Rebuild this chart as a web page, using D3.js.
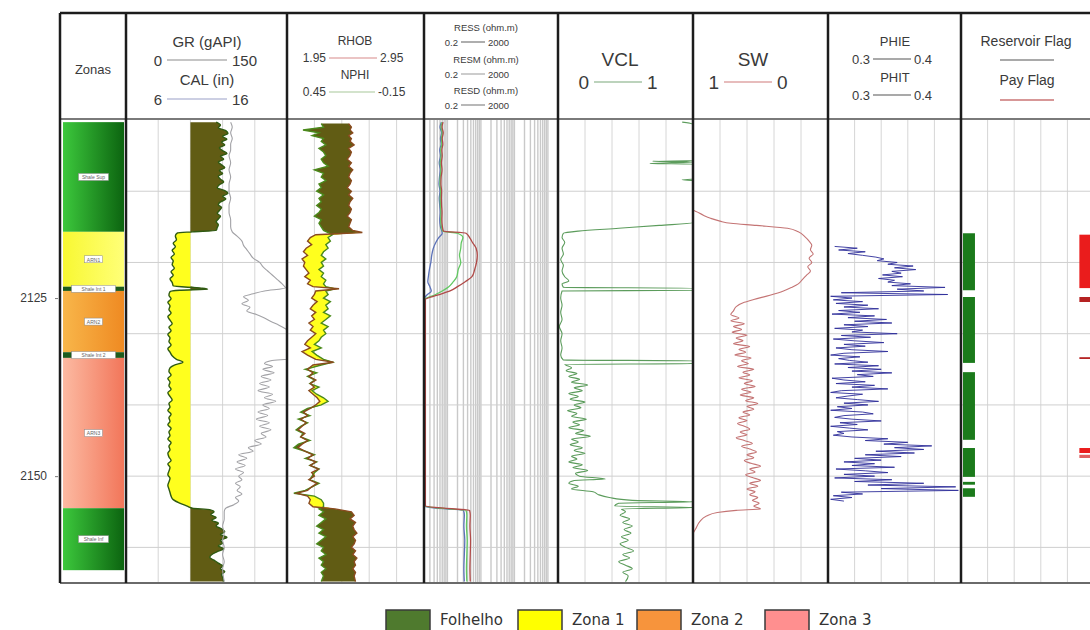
<!DOCTYPE html>
<html>
<head>
<meta charset="utf-8">
<script src="https://cdn.jsdelivr.net/npm/d3@7"></script>
<style>
  body { margin: 0; background: #fff; }
  svg { display: block; font-family: "Liberation Sans", Arial, sans-serif; }
</style>
</head>
<body>
<svg id="chart" width="1090" height="630"></svg>
<script>
// ---- data ----
const depthRange = [2100, 2165]
const depthLabels = [2125, 2150]

const zoneNames = ["Shale Sup", "ARN1", "Shale Int 1", "ARN2", "Shale Int 2", "ARN3", "Shale Inf"]
const zoneTops = [2100.3, 2115.7, 2123.4, 2124.0, 2132.6, 2133.4, 2154.5]
const zoneBases = [2115.7, 2123.4, 2124.0, 2132.6, 2133.4, 2154.5, 2163.2]
const zoneKinds = ["shale", "sand1", "thin", "sand2", "thin", "sand3", "shale"]

const legendLabels = ["Folhelho", "Zona 1", "Zona 2", "Zona 3"]

const grCutoff = 60
// [depth, GR gAPI]
const grCurve = [[2100.3,84],[2100.7,88],[2101.1,86],[2101.5,93],[2101.9,95],[2102.3,90],[2102.7,94],[2103.1,89],[2103.5,92],[2103.9,87],[2104.3,90],[2104.7,94],[2105.1,88],[2105.5,91],[2105.9,86],[2106.3,89],[2106.7,92],[2107.1,87],[2107.5,90],[2107.9,86],[2108.3,88],[2108.7,91],[2109.1,87],[2109.5,85],[2109.9,92],[2110.3,95],[2110.7,90],[2111.1,93],[2111.5,88],[2111.9,86],[2112.3,89],[2112.7,87],[2113.1,85],[2113.5,88],[2113.9,86],[2114.3,84],[2114.7,86],[2115.1,85],[2115.5,84],[2115.7,62],[2115.85,48],[2116.3,46],[2116.8,47],[2117.3,44],[2117.8,46],[2118.3,43],[2118.8,45],[2119.3,42],[2119.8,44],[2120.3,43],[2120.8,45],[2121.3,42],[2121.8,44],[2122.3,41],[2122.8,43],[2123.3,44],[2123.6,70],[2123.75,76],[2123.9,50],[2124.1,41],[2124.6,40],[2125.1,42],[2125.6,39],[2126.1,41],[2126.6,40],[2127.1,42],[2127.6,39],[2128.1,41],[2128.6,43],[2129.1,40],[2129.6,42],[2130.1,39],[2130.6,41],[2131.1,40],[2131.6,42],[2132.1,39],[2132.6,41],[2133.1,43],[2133.6,47],[2134.0,53],[2134.4,45],[2134.8,41],[2135.3,40],[2135.8,42],[2136.3,39],[2136.8,41],[2137.3,40],[2137.8,42],[2138.3,39],[2138.8,41],[2139.3,43],[2139.8,40],[2140.3,41],[2140.8,39],[2141.3,42],[2141.8,40],[2142.3,41],[2142.8,39],[2143.3,42],[2143.8,40],[2144.3,41],[2144.8,39],[2145.3,42],[2145.8,40],[2146.3,41],[2146.8,39],[2147.3,40],[2147.8,42],[2148.3,39],[2148.8,41],[2149.3,40],[2149.8,39],[2150.3,41],[2150.8,40],[2151.3,39],[2151.8,40],[2152.3,41],[2152.8,42],[2153.3,44],[2153.8,50],[2154.2,57],[2154.5,62],[2154.7,78],[2155.0,82],[2155.4,79],[2155.8,84],[2156.2,80],[2156.6,86],[2157.0,84],[2157.4,89],[2157.8,92],[2158.2,88],[2158.6,94],[2159.0,88],[2159.4,90],[2159.8,86],[2160.2,91],[2160.6,85],[2161.0,80],[2161.4,78],[2161.8,82],[2162.2,86],[2162.6,90],[2163.0,88],[2163.4,92],[2163.8,89],[2164.2,90],[2164.8,91]]

// [depth, CAL in]
const calCurve = [[2100.3,12.5],[2101,12.6],[2101.8,12.5],[2102.6,12.6],[2103.4,12.5],[2104.2,12.5],[2105,12.4],[2106,12.5],[2107,12.4],[2108,12.5],[2109,12.4],[2110,12.4],[2111,12.5],[2112,12.4],[2113,12.4],[2114,12.5],[2115,12.5],[2115.7,12.6],[2116.3,12.9],[2117,13.2],[2117.6,13.3],[2118.2,13.5],[2118.8,13.7],[2119.4,13.9],[2120,14.3],[2120.6,14.5],[2121.2,14.8],[2121.8,15.1],[2122.4,15.4],[2123,15.7],[2123.6,15.9],[2124,14.6],[2124.4,13.9],[2124.8,13.3],[2125.3,13.6],[2125.8,13.2],[2126.3,13.7],[2126.8,13.5],[2127.3,14.1],[2127.8,14.6],[2128.3,15.0],[2128.8,15.5],[2129.3,15.9],[2129.8,16.3],[2133.5,16.3],[2133.8,15.0],[2134.2,14.6],[2134.6,15.1],[2135,14.5],[2135.5,15.2],[2136,14.4],[2136.5,15.0],[2137,14.3],[2137.5,14.9],[2138,14.2],[2138.5,15.1],[2139,14.6],[2139.5,15.3],[2140,14.5],[2140.5,14.9],[2141,14.2],[2141.5,14.8],[2142,14.1],[2142.5,14.9],[2143,14.3],[2143.5,15.0],[2144,14.4],[2144.5,14.7],[2145,14.0],[2145.5,14.4],[2146,13.6],[2146.5,13.9],[2147,13.0],[2147.5,13.5],[2148,12.9],[2148.5,13.4],[2149,12.8],[2149.5,13.3],[2150,13.0],[2150.5,13.2],[2151,12.8],[2151.5,13.1],[2152,12.9],[2152.5,13.2],[2153,12.8],[2153.5,13.0],[2154,12.7],[2154.5,12.2],[2155,12.1],[2156,12.1],[2157,12.0],[2158,12.1],[2159,12.0],[2160,12.1],[2161,12.0],[2162,12.1],[2163,12.0],[2164.8,12.1]]

// [depth, RHOB g/cc, NPHI v/v]
const densNeutron = [[2100.5,2.40,0.30],[2101,2.42,0.29],[2101.4,2.41,0.38],[2101.8,2.43,0.31],[2102.2,2.40,0.34],[2102.6,2.42,0.29],[2103,2.41,0.30],[2103.5,2.44,0.28],[2104,2.40,0.31],[2104.5,2.42,0.29],[2105,2.41,0.28],[2105.5,2.39,0.30],[2106,2.42,0.29],[2106.5,2.40,0.27],[2107,2.43,0.33],[2107.5,2.41,0.29],[2108,2.40,0.30],[2108.5,2.42,0.28],[2109,2.41,0.31],[2109.5,2.39,0.30],[2110,2.42,0.32],[2110.5,2.40,0.29],[2111,2.43,0.31],[2111.5,2.41,0.30],[2112,2.40,0.32],[2112.5,2.42,0.30],[2113,2.41,0.31],[2113.5,2.39,0.33],[2114,2.42,0.30],[2114.5,2.41,0.31],[2115,2.40,0.30],[2115.5,2.43,0.29],[2115.8,2.50,0.27],
  [2116.1,2.16,0.25],[2116.5,2.12,0.27],[2117,2.10,0.26],[2117.5,2.13,0.28],[2118,2.09,0.27],[2118.5,2.07,0.29],[2119,2.10,0.30],[2119.5,2.06,0.28],[2120,2.08,0.30],[2120.5,2.07,0.29],[2121,2.09,0.31],[2121.5,2.11,0.29],[2122,2.08,0.30],[2122.5,2.12,0.28],[2123,2.10,0.29],[2123.4,2.14,0.28],[2123.7,2.33,0.24],[2124.0,2.16,0.28],
  [2124.5,2.15,0.27],[2125,2.13,0.29],[2125.5,2.17,0.26],[2126,2.14,0.28],[2126.5,2.12,0.27],[2127,2.16,0.29],[2127.5,2.13,0.26],[2128,2.15,0.28],[2128.5,2.11,0.30],[2129,2.14,0.27],[2129.5,2.12,0.29],[2130,2.16,0.28],[2130.5,2.13,0.30],[2131,2.10,0.31],[2131.5,2.08,0.33],[2132,2.12,0.30],[2132.5,2.06,0.34],[2133,2.10,0.32],[2133.6,2.16,0.29],[2134.0,2.29,0.25],[2134.4,2.14,0.30],
  [2135,2.10,0.37],[2135.5,2.14,0.32],[2136,2.11,0.36],[2136.5,2.16,0.33],[2137,2.12,0.35],[2137.5,2.15,0.31],[2138,2.11,0.34],[2138.5,2.14,0.32],[2139,2.17,0.29],[2139.5,2.19,0.27],[2140,2.16,0.30],[2140.5,2.12,0.36],[2141,2.07,0.39],[2141.5,2.10,0.35],[2142,2.05,0.40],[2142.5,2.09,0.36],[2143,2.06,0.39],[2143.5,2.03,0.41],[2144,2.08,0.38],[2144.5,2.05,0.39],[2145,2.10,0.35],[2145.5,2.06,0.40],[2146,2.03,0.42],[2146.5,2.08,0.37],[2147,2.14,0.33],[2147.5,2.10,0.37],[2148,2.16,0.32],[2148.5,2.12,0.35],[2149,2.18,0.31],[2149.5,2.13,0.33],[2150,2.15,0.34],[2150.5,2.11,0.35],[2151,2.17,0.31],[2151.5,2.13,0.34],[2152,2.10,0.37],[2152.4,2.02,0.42],[2152.8,2.10,0.33],[2153.3,2.12,0.30],[2153.8,2.11,0.29],[2154.3,2.14,0.29],[2154.6,2.30,0.31],
  [2155,2.42,0.29],[2155.5,2.44,0.31],[2156,2.41,0.28],[2156.5,2.45,0.30],[2157,2.43,0.32],[2157.5,2.44,0.29],[2158,2.46,0.31],[2158.5,2.43,0.28],[2159,2.45,0.30],[2159.5,2.44,0.32],[2160,2.42,0.29],[2160.5,2.45,0.30],[2161,2.43,0.28],[2161.5,2.46,0.31],[2162,2.44,0.29],[2162.5,2.45,0.30],[2163,2.43,0.28],[2163.5,2.45,0.30],[2164,2.44,0.29],[2164.8,2.45,0.30]]

// [depth, RESS, RESM, RESD] ohm.m
const resCurves = [[2100.3,0.66,0.70,0.74],[2101,0.60,0.64,0.69],[2101.8,0.67,0.70,0.75],[2102.6,0.62,0.66,0.70],[2103.4,0.65,0.68,0.73],[2104.2,0.59,0.63,0.68],[2105,0.62,0.65,0.70],[2106,0.57,0.61,0.66],[2107,0.61,0.64,0.69],[2108,0.58,0.61,0.65],[2109,0.56,0.60,0.64],[2110,0.60,0.63,0.67],[2111,0.57,0.61,0.66],[2112,0.59,0.62,0.67],[2113,0.61,0.64,0.69],[2114,0.59,0.63,0.68],[2115,0.62,0.66,0.71],[2115.6,0.68,0.72,0.76],[2115.9,0.70,2.0,3.6],[2116.5,0.55,2.9,4.6],[2117.2,0.45,2.6,5.6],[2118,0.38,2.5,7.2],[2119,0.34,2.3,7.8],[2120,0.32,2.5,7.4],[2121,0.29,2.1,6.5],[2122,0.27,1.9,5.4],[2122.7,0.26,1.5,3.4],[2123.4,0.30,1.1,2.0],[2124.0,0.33,0.7,1.2],[2124.6,0.24,0.4,0.5],[2125.2,0.2,0.21,0.22],[2154.2,0.2,0.21,0.22],[2154.5,0.45,0.6,0.8],[2154.8,3.0,3.6,4.6],[2155.5,3.2,3.8,4.8],[2157,3.1,3.7,4.7],[2159,3.3,3.9,4.9],[2161,3.2,3.8,4.8],[2163,3.1,3.7,4.7],[2164.8,3.2,3.8,4.8]]

// [depth, VCL v/v]
const vclCurve = [[2100.3,0.92],[2100.6,1],[2105.7,1],[2105.8,0.70],[2105.9,1],[2106.1,0.68],[2106.2,1],[2108.3,1],[2108.4,0.92],[2108.5,1],[2114.4,1],[2114.8,0.75],[2115.2,0.45],[2115.6,0.15],[2115.9,0.04],[2116.5,0.03],[2117.2,0.05],[2118,0.03],[2118.8,0.04],[2119.6,0.02],[2120.4,0.04],[2121.2,0.03],[2122,0.05],[2122.6,0.08],[2123,0.03],[2123.5,0.04],[2123.6,1],[2123.9,1],[2124.0,0.03],[2125,0.02],[2126,0.03],[2127,0.02],[2128,0.03],[2129,0.01],[2130,0.03],[2131,0.02],[2132,0.03],[2133,0.02],[2133.7,0.04],[2133.8,1],[2134.2,1],[2134.3,0.05],[2134.8,0.10],[2135.2,0.06],[2135.6,0.14],[2136,0.08],[2136.4,0.16],[2136.8,0.10],[2137.2,0.22],[2137.6,0.12],[2138,0.18],[2138.4,0.08],[2138.8,0.15],[2139.2,0.09],[2139.6,0.20],[2140,0.12],[2140.4,0.17],[2140.8,0.07],[2141.2,0.14],[2141.6,0.10],[2142,0.21],[2142.4,0.11],[2142.8,0.16],[2143.2,0.08],[2143.6,0.19],[2144,0.13],[2144.4,0.24],[2144.8,0.10],[2145.2,0.15],[2145.6,0.09],[2146,0.18],[2146.4,0.12],[2146.8,0.20],[2147.2,0.10],[2147.6,0.14],[2148,0.08],[2148.4,0.18],[2148.8,0.11],[2149.2,0.22],[2149.6,0.13],[2150,0.16],[2150.4,0.35],[2150.6,0.12],[2151,0.08],[2151.4,0.15],[2151.8,0.10],[2152.2,0.26],[2152.6,0.30],[2153.0,0.38],[2153.4,0.55],[2153.6,1],[2153.8,0.45],[2154.2,0.42],[2154.4,1],[2154.6,0.47],[2155,0.50],[2155.5,0.46],[2156,0.53],[2156.5,0.48],[2157,0.55],[2157.5,0.49],[2158,0.54],[2158.5,0.47],[2159,0.52],[2159.5,0.46],[2160,0.50],[2160.5,0.56],[2161,0.48],[2161.5,0.53],[2162,0.45],[2162.5,0.50],[2163,0.55],[2163.5,0.48],[2164,0.52],[2164.8,0.50]]

// [depth, SW v/v]
const swCurve = [[2100.3,1],[2112.6,1],[2112.9,0.97],[2113.4,0.92],[2113.8,0.87],[2114.2,0.80],[2114.5,0.72],[2114.8,0.53],[2115.2,0.30],[2115.7,0.22],[2116.4,0.17],[2117,0.14],[2117.6,0.12],[2118.2,0.13],[2118.8,0.11],[2119.4,0.14],[2120,0.12],[2120.6,0.15],[2121.2,0.13],[2121.8,0.16],[2122.4,0.19],[2123,0.22],[2123.5,0.27],[2124,0.33],[2124.6,0.43],[2125.2,0.55],[2125.6,0.62],[2126.2,0.68],[2126.8,0.70],[2127.3,0.72],[2127.8,0.66],[2128.2,0.72],[2128.6,0.62],[2129,0.70],[2129.4,0.64],[2129.8,0.71],[2130.2,0.60],[2130.6,0.68],[2131,0.63],[2131.4,0.70],[2131.8,0.58],[2132.2,0.66],[2132.6,0.61],[2133,0.69],[2133.4,0.57],[2133.8,0.64],[2134.2,0.59],[2134.6,0.67],[2135,0.55],[2135.4,0.63],[2135.8,0.58],[2136.2,0.66],[2136.6,0.56],[2137,0.62],[2137.4,0.54],[2137.8,0.64],[2138.2,0.57],[2138.6,0.65],[2139,0.55],[2139.4,0.61],[2139.8,0.52],[2140.2,0.60],[2140.6,0.55],[2141,0.63],[2141.4,0.58],[2141.8,0.66],[2142.2,0.60],[2142.6,0.67],[2143,0.62],[2143.4,0.58],[2143.8,0.65],[2144.2,0.60],[2144.6,0.68],[2145,0.62],[2145.4,0.56],[2145.8,0.64],[2146.2,0.58],[2146.6,0.53],[2147,0.60],[2147.4,0.55],[2147.8,0.62],[2148.2,0.57],[2148.6,0.50],[2149,0.58],[2149.4,0.54],[2149.8,0.61],[2150.2,0.56],[2150.6,0.50],[2151,0.58],[2151.4,0.52],[2151.8,0.60],[2152.2,0.54],[2152.6,0.58],[2153,0.52],[2153.4,0.56],[2153.8,0.51],[2154.2,0.55],[2154.6,0.50],[2154.8,0.68],[2155.1,0.82],[2155.6,0.90],[2156.4,0.95],[2157.4,0.98],[2158.2,1],[2164.8,1]]

// PHIE sampled every 0.25 m from 2117.75 m
const phieStart = 2117.75
const phieStep = 0.25
const phieValues = [0.305,0.322,0.308,0.328,0.315,0.326,0.336,0.342,0.337,0.352,0.345,0.364,0.350,0.366,0.348,0.355,0.341,0.356,0.338,0.350,0.345,0.362,0.348,0.388,0.352,0.372,0.310,0.390,0.302,0.318,0.304,0.326,0.306,0.330,0.312,0.338,0.308,0.324,0.303,0.335,0.315,0.344,0.320,0.348,0.312,0.330,0.305,0.326,0.318,0.352,0.310,0.332,0.304,0.320,0.342,0.312,0.328,0.306,0.318,0.345,0.312,0.302,0.324,0.308,0.316,0.330,0.305,0.338,0.315,0.340,0.318,0.348,0.322,0.334,0.303,0.312,0.328,0.306,0.335,0.318,0.345,0.310,0.302,0.326,0.315,0.306,0.322,0.338,0.312,0.330,0.307,0.318,0.302,0.326,0.334,0.312,0.305,0.318,0.340,0.309,0.322,0.302,0.316,0.330,0.307,0.312,0.304,0.318,0.345,0.328,0.360,0.342,0.378,0.350,0.372,0.336,0.365,0.328,0.355,0.320,0.340,0.312,0.335,0.318,0.350,0.306,0.328,0.345,0.312,0.335,0.305,0.348,0.320,0.372,0.330,0.396,0.340,0.398,0.310,0.326,0.304,0.318,0.302,0.312]

// flag intervals [top, base]
const reservoirFlags = [[2115.9,2123.9],[2124.85,2134.1],[2135.4,2144.9],[2146.05,2150.1],[2150.8,2151.2],[2151.7,2152.9]]
const payFlags = [[2116.1,2123.6,"main"],[2124.85,2125.55,"thin"],[2133.3,2133.55,"thin"],[2146.05,2146.75,"main"],[2147.0,2147.45,"light"]]

// ---- layout ----
const svg = d3.select("#chart")
const edges = [60, 126, 287, 424, 558, 693, 828, 961, 1094]
const headTop = 13, headBottom = 119, plotTop = 120, plotBottom = 583
const ink = "#3a3a3a"
const olive = "#615c14"
const sandYellow = "#ffff1e"
const zoneColors = {
  shale: ["#3cc83c", "#0c6410"],
  sand1: ["#f8f832", "#ffff78"],
  sand2: ["#f8b64a", "#ef8a22"],
  sand3: ["#fcbaa2", "#f2765a"],
  thin: ["#1d5c1d", "#1d5c1d"]
}
const legendColors = ["#4f7a2e", "#ffff00", "#f7943c", "#ff8f8f"]

const y = d3.scaleLinear().domain(depthRange).range([plotTop, plotBottom])
const x = {
  gr: d3.scaleLinear([0, 150], [edges[1], edges[2]]),
  cal: d3.scaleLinear([6, 16], [edges[1], edges[2]]),
  rhob: d3.scaleLinear([1.95, 2.95], [edges[2], edges[3]]),
  nphi: d3.scaleLinear([0.45, -0.15], [edges[2], edges[3]]),
  res: d3.scaleLog([0.2, 2000], [edges[3], edges[4]]),
  vcl: d3.scaleLinear([0, 1], [edges[4], edges[5]]),
  sw: d3.scaleLinear([1, 0], [edges[5], edges[6]]),
  phie: d3.scaleLinear([0.3, 0.4], [edges[6], edges[7]]),
  flag: d3.scaleLinear([0, 10], [edges[7], edges[8]])
}
const smooth = d3.curveMonotoneY

const defs = svg.append("defs")
for (let i = 1; i < edges.length - 1; i++) {
  defs.append("clipPath").attr("id", `clip${i}`)
    .append("rect")
    .attr("x", edges[i]).attr("y", plotTop)
    .attr("width", edges[i + 1] - edges[i]).attr("height", plotBottom - plotTop)
}
Object.entries(zoneColors).forEach(([k, c]) => {
  const g = defs.append("linearGradient").attr("id", `grad-${k}`)
  g.append("stop").attr("offset", "0%").attr("stop-color", c[0])
  g.append("stop").attr("offset", "100%").attr("stop-color", c[1])
})

// ---- grids ----
const gridG = svg.append("g")
const hLines = d3.range(2110, depthRange[1], 10)
for (let i = 1; i < edges.length - 1; i++) {
  const g = gridG.append("g").attr("clip-path", `url(#clip${i})`)
  const x0 = edges[i], x1 = edges[i + 1]
  let vx
  if (i === 3) {
    vx = []
    ;[-1, 0, 1, 2, 3].forEach((p) => d3.range(1, 10).forEach((k) => {
      const v = k * Math.pow(10, p)
      if (v > 0.2 && v < 2000) vx.push(x.res(v))
    }))
  } else {
    vx = d3.range(1, 5).map((k) => x0 + k * (x1 - x0) / 5)
  }
  g.selectAll("line.v").data(vx).join("line")
    .attr("x1", (d) => d).attr("x2", (d) => d)
    .attr("y1", plotTop).attr("y2", plotBottom)
    .attr("stroke", i === 3 ? "#c9c9c9" : "#d6d6d6").attr("stroke-width", i === 3 ? 1.4 : 1)
  g.selectAll("line.h").data(hLines).join("line")
    .attr("x1", x0).attr("x2", x1)
    .attr("y1", (d) => y(d)).attr("y2", (d) => y(d))
    .attr("stroke", "#cfcfcf").attr("stroke-width", 1)
}

// ---- zones ----
const zoneG = svg.append("g")
const zoneX0 = edges[0] + 3, zoneX1 = edges[1] - 2
zoneNames.forEach((name, i) => {
  zoneG.append("rect")
    .attr("x", zoneX0).attr("width", zoneX1 - zoneX0)
    .attr("y", y(zoneTops[i])).attr("height", y(zoneBases[i]) - y(zoneTops[i]))
    .attr("fill", `url(#grad-${zoneKinds[i]})`)
})
zoneNames.forEach((name, i) => {
  const cy = (y(zoneTops[i]) + y(zoneBases[i])) / 2
  const w = zoneKinds[i] === "thin" ? 44 : (name.length > 5 ? 30 : 18)
  const cx = (zoneX0 + zoneX1) / 2
  zoneG.append("rect")
    .attr("x", cx - w / 2).attr("y", cy - 3.5).attr("width", w).attr("height", 7)
    .attr("fill", "#fff").attr("stroke", "#8a8a8a").attr("stroke-width", 0.5)
  zoneG.append("text")
    .attr("x", cx).attr("y", cy + 0.3)
    .attr("text-anchor", "middle").attr("dominant-baseline", "central")
    .attr("font-size", 5).attr("fill", "#666").text(name)
})

// ---- GR / CAL ----
const grG = svg.append("g").attr("clip-path", "url(#clip1)")
const base = x.gr(grCutoff)
grG.append("path").datum(grCurve)
  .attr("fill", olive)
  .attr("d", d3.area().curve(smooth).y((d) => y(d[0])).x0(base).x1((d) => Math.max(base, x.gr(d[1]))))
grG.append("path").datum(grCurve)
  .attr("fill", sandYellow)
  .attr("d", d3.area().curve(smooth).y((d) => y(d[0])).x0((d) => Math.min(base, x.gr(d[1]))).x1(base))
grG.append("path").datum(grCurve)
  .attr("fill", "none").attr("stroke", "#2f5a12").attr("stroke-width", 1.4)
  .attr("d", d3.line().curve(smooth).y((d) => y(d[0])).x((d) => x.gr(d[1])))
grG.append("path").datum(calCurve)
  .attr("fill", "none").attr("stroke", "#a2a2a6").attr("stroke-width", 1.1)
  .attr("d", d3.line().curve(smooth).y((d) => y(d[0])).x((d) => x.cal(d[1])))

// ---- RHOB / NPHI ----
const dnG = svg.append("g").attr("clip-path", "url(#clip2)")
dnG.append("path").datum(densNeutron)
  .attr("fill", olive)
  .attr("d", d3.area().y((d) => y(d[0])).x0((d) => x.nphi(d[2])).x1((d) => Math.max(x.nphi(d[2]), x.rhob(d[1]))))
dnG.append("path").datum(densNeutron)
  .attr("fill", sandYellow)
  .attr("d", d3.area().y((d) => y(d[0])).x0((d) => x.rhob(d[1])).x1((d) => Math.max(x.rhob(d[1]), x.nphi(d[2]))))
dnG.append("path").datum(densNeutron)
  .attr("fill", "none").attr("stroke", "#4a8a1c").attr("stroke-width", 1.4)
  .attr("d", d3.line().y((d) => y(d[0])).x((d) => x.nphi(d[2])))
dnG.append("path").datum(densNeutron)
  .attr("fill", "none").attr("stroke", "#8a4a1e").attr("stroke-width", 1.4)
  .attr("d", d3.line().y((d) => y(d[0])).x((d) => x.rhob(d[1])))

// ---- resistivity ----
const resG = svg.append("g").attr("clip-path", "url(#clip3)")
const resColors = ["#5c72b8", "#62c862", "#b04a48"]
;[1, 2, 3].forEach((k) => {
  resG.append("path").datum(resCurves)
    .attr("fill", "none").attr("stroke", resColors[k - 1]).attr("stroke-width", 1.3)
    .attr("d", d3.line().curve(smooth).y((d) => y(d[0])).x((d) => x.res(d[k])))
})

// ---- VCL / SW / PHIE ----
svg.append("g").attr("clip-path", "url(#clip4)").append("path").datum(vclCurve)
  .attr("fill", "none").attr("stroke", "#5c9c5c").attr("stroke-width", 1.1)
  .attr("d", d3.line().curve(smooth).y((d) => y(d[0])).x((d) => x.vcl(d[1])))
svg.append("g").attr("clip-path", "url(#clip5)").append("path").datum(swCurve)
  .attr("fill", "none").attr("stroke", "#c47474").attr("stroke-width", 1.1)
  .attr("d", d3.line().curve(smooth).y((d) => y(d[0])).x((d) => x.sw(d[1])))
svg.append("g").attr("clip-path", "url(#clip6)").append("path").datum(phieValues)
  .attr("fill", "none").attr("stroke", "#2e2e9a").attr("stroke-width", 0.9)
  .attr("d", d3.line().y((d, i) => y(phieStart + i * phieStep)).x((d) => x.phie(Math.max(0.3, d))))

// ---- flags ----
const flagG = svg.append("g").attr("clip-path", "url(#clip7)")
flagG.selectAll("rect.res").data(reservoirFlags).join("rect")
  .attr("x", x.flag(0.15)).attr("width", x.flag(1.05) - x.flag(0.15))
  .attr("y", (d) => y(d[0])).attr("height", (d) => y(d[1]) - y(d[0]))
  .attr("fill", "#1b7a1b")
const payFill = { main: "#ea1c1c", thin: "#b52222", light: "#e06060" }
flagG.selectAll("rect.pay").data(payFlags).join("rect")
  .attr("x", x.flag(8.9)).attr("width", x.flag(10) - x.flag(8.9))
  .attr("y", (d) => y(d[0])).attr("height", (d) => Math.max(1.5, y(d[1]) - y(d[0])))
  .attr("fill", (d) => payFill[d[2]])

// ---- frame ----
const frame = svg.append("g")
frame.append("line").attr("x1", edges[0]).attr("x2", 1090).attr("y1", headTop).attr("y2", headTop)
  .attr("stroke", "#1c1c1c").attr("stroke-width", 2.5)
frame.append("line").attr("x1", edges[0]).attr("x2", 1090).attr("y1", headBottom).attr("y2", headBottom)
  .attr("stroke", "#7a7a7a").attr("stroke-width", 2)
frame.append("line").attr("x1", edges[0]).attr("x2", 1090).attr("y1", plotBottom).attr("y2", plotBottom)
  .attr("stroke", "#6a6a6a").attr("stroke-width", 2)
frame.selectAll("line.edge").data(edges.slice(0, 8)).join("line")
  .attr("x1", (d) => d).attr("x2", (d) => d).attr("y1", headTop).attr("y2", plotBottom)
  .attr("stroke", "#1c1c1c").attr("stroke-width", 2.5)

// depth axis
const axisG = svg.append("g").attr("transform", `translate(${edges[0] - 2},0)`)
  .call(d3.axisLeft(y).tickValues(depthLabels).tickSize(3).tickPadding(8).tickFormat(d3.format("d")))
axisG.select(".domain").remove()
axisG.selectAll("text").attr("font-size", 12).attr("fill", ink).attr("font-family", "Liberation Sans, Arial, sans-serif")
axisG.selectAll("line").attr("stroke", "#777")

// ---- header ----
const head = svg.append("g").attr("fill", ink)
const label = (cx, cy, str, size, anchor) => head.append("text")
  .attr("x", cx).attr("y", cy).attr("font-size", size)
  .attr("text-anchor", anchor || "middle").attr("dominant-baseline", "central").text(str)
const scaleRow = (cx, cy, len, lo, hi, size, color, gap) => {
  const g = gap || 3
  head.append("line").attr("x1", cx - len / 2).attr("x2", cx + len / 2)
    .attr("y1", cy).attr("y2", cy).attr("stroke", color).attr("stroke-width", 1.2)
  label(cx - len / 2 - g, cy, lo, size, "end")
  label(cx + len / 2 + g, cy, hi, size, "start")
}
label(93, 69, "Zonas", 13)
label(207, 41, "GR (gAPI)", 15)
scaleRow(197, 60, 60, "0", "150", 15, "#8c8c8c", 5)
label(207, 79, "CAL (in)", 15)
scaleRow(197, 99, 60, "6", "16", 15, "#9aa0c8", 5)
label(355, 41, "RHOB", 12)
scaleRow(353, 58, 48, "1.95", "2.95", 12, "#d88a8a")
label(355, 75, "NPHI", 12)
scaleRow(352, 92, 46, "0.45", "-0.15", 12, "#a8c89a")
label(486, 27, "RESS (ohm.m)", 9.5)
scaleRow(473, 42, 24, "0.2", "2000", 9.5, "#777")
label(486, 59, "RESM (ohm.m)", 9.5)
scaleRow(473, 74, 24, "0.2", "2000", 9.5, "#aaa")
label(486, 90, "RESD (ohm.m)", 9.5)
scaleRow(473, 105, 24, "0.2", "2000", 9.5, "#888")
label(620, 59, "VCL", 19)
scaleRow(618, 82, 48, "0", "1", 19, "#7aa87a", 5)
label(753, 59, "SW", 19)
scaleRow(748, 82, 48, "1", "0", 19, "#d07a7a", 5)
label(895, 41, "PHIE", 13)
scaleRow(892, 59, 38, "0.3", "0.4", 13, "#555")
label(895, 77, "PHIT", 13)
scaleRow(892, 95, 38, "0.3", "0.4", 13, "#555")
label(1026, 41, "Reservoir Flag", 14)
head.append("line").attr("x1", 1000).attr("x2", 1054).attr("y1", 60).attr("y2", 60).attr("stroke", "#555").attr("stroke-width", 1.2)
label(1027, 80, "Pay Flag", 14)
head.append("line").attr("x1", 1000).attr("x2", 1054).attr("y1", 100).attr("y2", 100).attr("stroke", "#b03030").attr("stroke-width", 1.2)

// ---- legend ----
const legendX = [386, 518, 637, 765]
const leg = svg.append("g")
legendLabels.forEach((name, i) => {
  leg.append("rect").attr("x", legendX[i]).attr("y", 610).attr("width", 44).attr("height", 22)
    .attr("fill", legendColors[i]).attr("stroke", "#3a3a3a").attr("stroke-width", 1.5)
  leg.append("text").attr("x", legendX[i] + 54).attr("y", 620)
    .attr("dominant-baseline", "central").attr("font-size", 15)
    .attr("font-family", "'DejaVu Sans', sans-serif").attr("fill", "#333").text(name)
})
</script>
</body>
</html>
